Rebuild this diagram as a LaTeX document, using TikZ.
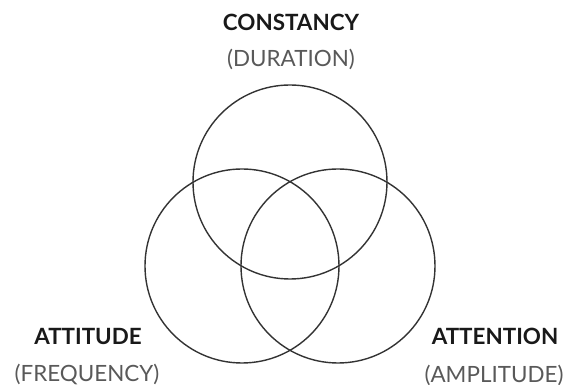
\documentclass[tikz,border=0pt]{standalone}
\usepackage{fontspec}
\setmainfont{Lato}
\begin{document}
\begin{tikzpicture}[x=0.5pt, y=-0.5pt, line width=0.7pt]
\tikzset{
  ring/.style={draw=black!80, circle, minimum size=97pt, inner sep=0pt},
  title/.style={font=\fontsize{11.2}{13}\selectfont\bfseries, text=black!90, inner sep=0pt},
  aspect/.style={font=\fontsize{11.2}{13}\selectfont, text=black!65, inner sep=0pt}
}
\useasboundingbox (0,0) rectangle (564,385);
\node[ring] (Ctop) at (290,182) {};
\node[ring] (Cleft) at (242,266) {};
\node[ring] (Cright) at (338,266) {};

\node[title] (N1) at (291,22) {CONSTANCY};
\node[aspect] (A1) at (291,59) {(DURATION)};
\node[title] (N2) at (88,336) {ATTITUDE};
\node[aspect] (A2) at (87,374) {(FREQUENCY)};
\node[title] (N3) at (495,336) {ATTENTION};
\node[aspect] (A3) at (494,375) {(AMPLITUDE)};
\end{tikzpicture}
\end{document}
